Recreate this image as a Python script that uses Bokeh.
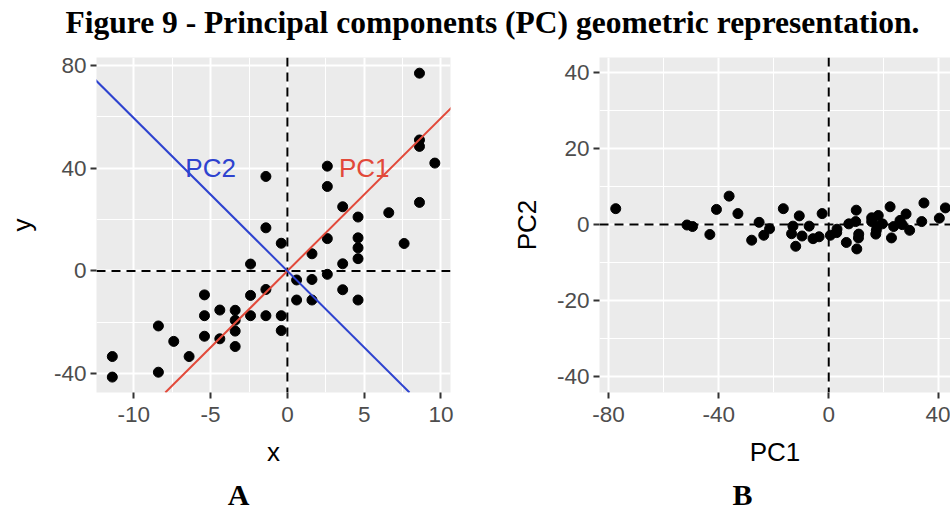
from bokeh.plotting import figure
from bokeh.layouts import column, row
from bokeh.models import Range1d, FixedTicker, Span, Slope
from bokeh.core.properties import value
from bokeh.embed import file_html
from bokeh.resources import INLINE

# ---- data ----
x_vals = [8.6, 8.6, 8.6, 9.6, 8.6, 2.6, 2.6, -1.4, 3.6, 4.6, 6.6, 7.6, -1.4, -0.4, 2.6, 1.6,
          4.6, 4.6, 4.6, 3.6, -2.4, 2.6, 0.6, 1.6, 3.6, -1.4, -2.4, -5.4, 0.6, 1.6, 4.6,
          -5.4, -4.4, -3.4, -2.4, -1.4, -0.4, -3.4, -3.4, -3.4, -0.4, -5.4, -4.4, -7.4,
          -8.4, -6.4, -11.4, -11.4, -8.4]
y_vals = [77.0, 51.0, 48.5, 42.0, 26.7, 40.8, 32.9, 36.8, 25.0, 21.0, 22.7, 10.7, 16.8, 10.8,
          12.6, 6.7, 12.9, 9.0, 4.8, 2.8, 2.7, -1.3, -3.5, -3.3, -7.3, -7.2, -9.5, -9.3,
          -11.3, -11.3, -11.3, -17.4, -15.2, -15.3, -17.4, -17.4, -17.4, -19.2, -23.4,
          -29.4, -23.2, -25.4, -26.4, -27.4, -21.4, -33.3, -33.3, -41.3, -39.4]
pc1_vals = [-77.4, -51.5, -49.5, -43.2, -28.0, -40.8, -33.0, -36.2, -25.3, -21.5, -23.6, -12.0,
            -16.5, -10.7, -13.0, -7.1, -13.5, -9.7, -5.7, -3.5, -2.4, 0.6, 3.0, 2.9, 6.4, 7.3,
            9.8, 10.0, 10.9, 10.8, 10.2, 18.0, 15.6, 15.6, 17.5, 17.3, 17.1, 19.5, 23.6, 29.4,
            22.8, 25.9, 26.7, 28.1, 22.3, 33.8, 34.6, 42.4, 40.2]
pc2_vals = [4.2, -0.1, -0.5, -2.6, -4.1, 4.0, 2.9, 7.5, 0.6, -1.1, -2.8, -5.7, 4.2, 2.3, -0.4,
            -0.4, -2.4, -3.0, -3.7, -3.2, 2.9, -2.8, -1.2, -2.1, -4.7, 0.2, 0.8, 3.8, -2.5, -3.5,
            -6.4, 2.4, 1.8, 0.8, -0.5, -1.5, -2.5, 0.2, -0.5, -1.5, -3.5, 1.1, 0.0, 2.8, 4.7,
            0.8, 5.7, 4.4, 1.7]
pc1_slope = 5.95
pc2_slope = -5.95
pc_labels = ["PC1", "PC2"]
pc_label_x = [5, -5]
pc_label_y = [40, 40]

a_xticks = [-10, -5, 0, 5, 10]
a_xminor = [-7.5, -2.5, 2.5, 7.5]
a_yticks = [-40, 0, 40, 80]
a_yminor = [-20, 20, 60]
b_xticks = [-80, -40, 0, 40]
b_xminor = [-60, -20, 20]
b_yticks = [-40, -20, 0, 20, 40]
b_yminor = [-30, -10, 10, 30]

title_text = "Figure 9 - Principal components (PC) geometric representation."
panel_labels = ["A", "B"]

RED = "#E2493A"
BLUE = "#2E43CF"
SANS = "Liberation Sans"
SERIF = "Liberation Serif"


def style_panel(p, xt, xm, yt, ym):
    p.background_fill_color = "#EBEBEB"
    p.border_fill_color = "white"
    p.outline_line_color = None
    p.xaxis.ticker = FixedTicker(ticks=xt, minor_ticks=xm)
    p.yaxis.ticker = FixedTicker(ticks=yt, minor_ticks=ym)
    p.xaxis.major_label_overrides = {t: str(t) for t in xt}
    p.yaxis.major_label_overrides = {t: str(t) for t in yt}
    for g in (p.xgrid[0], p.ygrid[0]):
        g.grid_line_color = "white"
        g.grid_line_width = 2
        g.minor_grid_line_color = "white"
        g.minor_grid_line_width = 1
    for ax in (p.xaxis[0], p.yaxis[0]):
        ax.axis_line_color = None
        ax.minor_tick_line_color = None
        ax.major_tick_line_color = "#333333"
        ax.major_tick_line_width = 2
        ax.major_tick_out = 6
        ax.major_tick_in = 0
        ax.major_label_text_font = SANS
        ax.major_label_text_font_size = "22.5px"
        ax.major_label_text_color = "#4D4D4D"
        ax.axis_label_text_font = SANS
        ax.axis_label_text_font_size = "26px"
        ax.axis_label_text_font_style = "normal"
        ax.axis_label_text_color = "black"
    p.xaxis[0].major_label_standoff = 8
    p.xaxis[0].axis_label_standoff = 12
    p.yaxis[0].major_label_standoff = 4
    p.yaxis[0].axis_label_standoff = 14
    for dim in ("width", "height"):
        p.add_layout(Span(location=0, dimension=dim, line_color="black",
                          line_width=2, line_dash="9 6"))


# ---- panel A ----
pA = figure(width=470, height=430, output_backend="svg", toolbar_location=None,
            x_range=Range1d(-12.43, 10.62), y_range=Range1d(-47.3, 83.1),
            min_border_left=96, min_border_right=20, min_border_top=10, min_border_bottom=83,
            x_axis_label="x", y_axis_label="y")
style_panel(pA, a_xticks, a_xminor, a_yticks, a_yminor)
pA.add_layout(Slope(gradient=pc1_slope, y_intercept=0, line_color=RED, line_width=2))
pA.add_layout(Slope(gradient=pc2_slope, y_intercept=0, line_color=BLUE, line_width=2))
pA.scatter(x_vals, y_vals, size=10, color="black")
pA.text(x=pc_label_x, y=pc_label_y, text=pc_labels, text_color=[RED, BLUE],
        text_font=value(SANS), text_font_size="26px", text_align="center",
        text_baseline="middle")

# ---- panel B ----
pB = figure(width=480, height=430, output_backend="svg", toolbar_location=None,
            x_range=Range1d(-83.3, 44.25), y_range=Range1d(-44.2, 44.0),
            min_border_left=129, min_border_right=0, min_border_top=12, min_border_bottom=82,
            x_axis_label="PC1", y_axis_label="PC2")
style_panel(pB, b_xticks, b_xminor, b_yticks, b_yminor)
pB.yaxis[0].axis_label_standoff = 12
pB.scatter(pc1_vals, pc2_vals, size=10, color="black")

# ---- title strip ----
pT = figure(width=950, height=45, output_backend="svg", toolbar_location=None,
            x_range=Range1d(0, 950), y_range=Range1d(45, 0),
            x_axis_type=None, y_axis_type=None, min_border=0)
pT.outline_line_color = None
pT.grid.visible = False
pT.text(x=[492], y=[22.3], text=[title_text], text_font=value(SERIF),
        text_font_style="bold", text_font_size="31.5px", text_align="center",
        text_baseline="middle", text_color="black")

# ---- bottom labels strip ----
pL = figure(width=950, height=36, output_backend="svg", toolbar_location=None,
            x_range=Range1d(0, 950), y_range=Range1d(511, 475),
            x_axis_type=None, y_axis_type=None, min_border=0)
pL.outline_line_color = None
pL.grid.visible = False
pL.text(x=[238, 742], y=[493.5, 493.5], text=panel_labels, text_font=value(SERIF),
        text_font_style="bold", text_font_size="30px", text_align="center",
        text_baseline="middle", text_color="black")

layout = column(pT, row(pA, pB), pL)
open("out.html", "w").write(file_html(layout, INLINE))
